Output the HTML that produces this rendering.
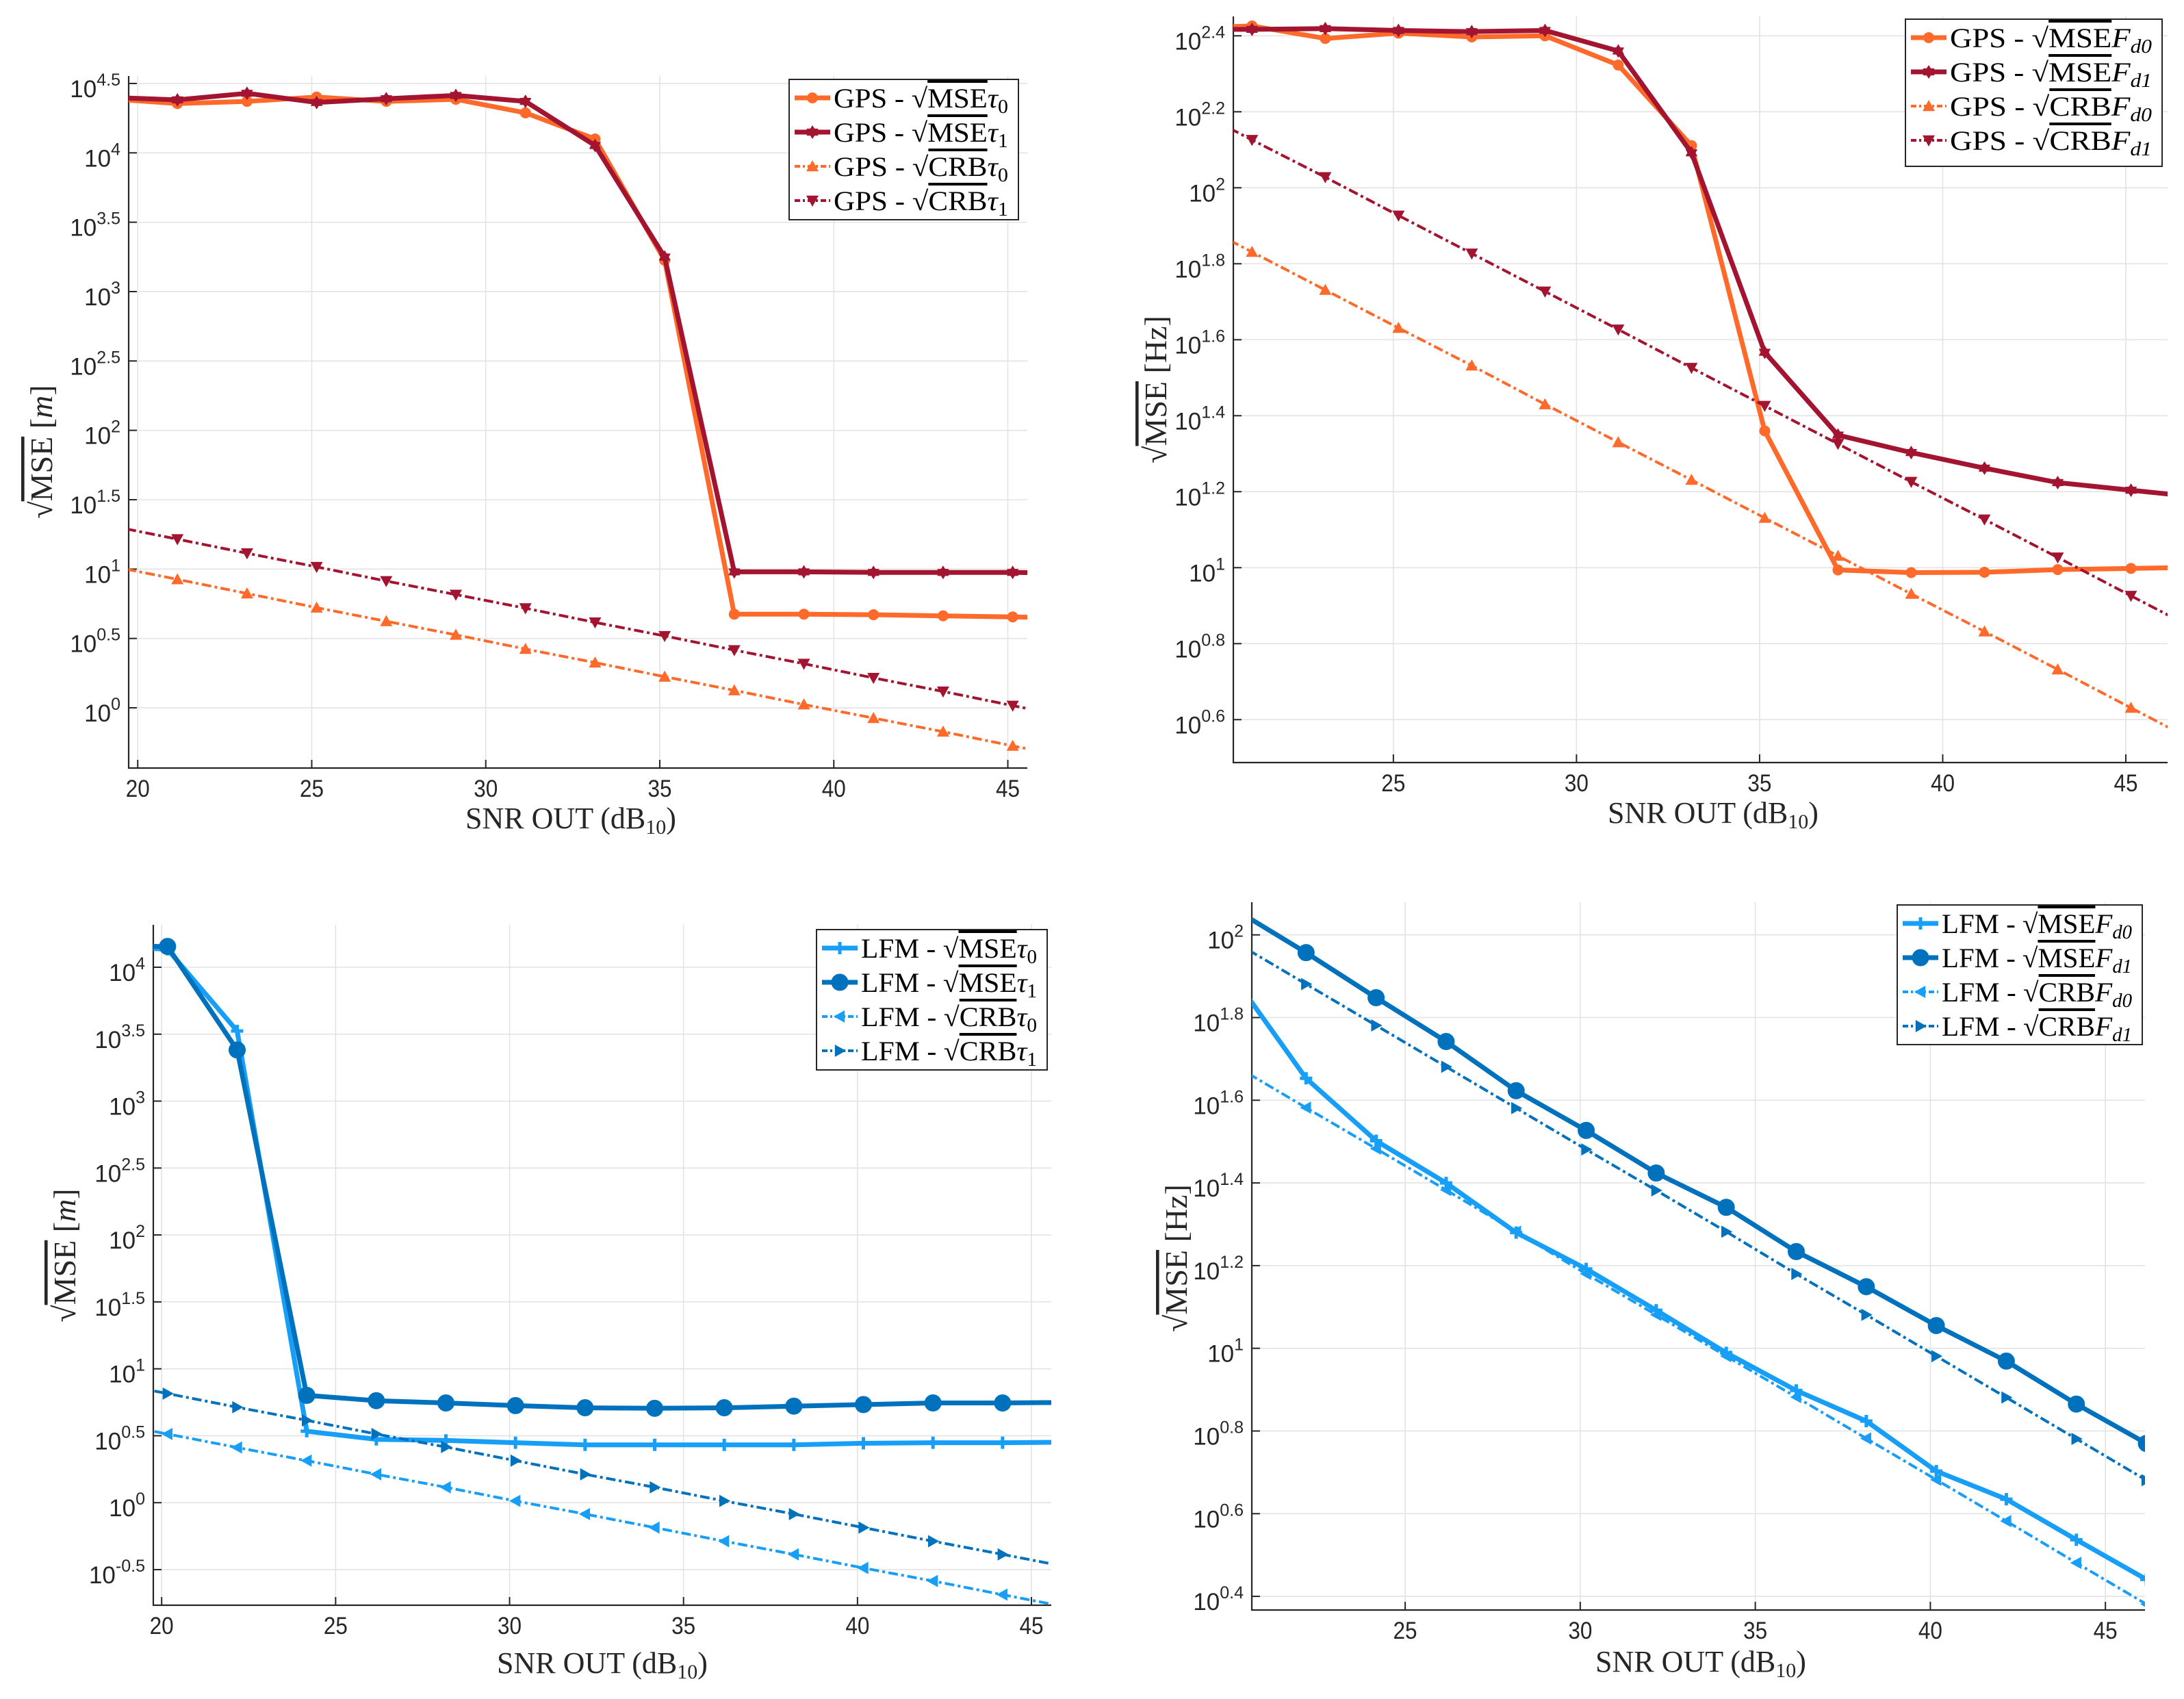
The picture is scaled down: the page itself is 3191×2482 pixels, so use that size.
<!DOCTYPE html>
<html><head><meta charset="utf-8"><style>
html,body{margin:0;padding:0;background:#fff;}
svg{display:block;}
</style></head><body>
<svg id="fig" width="3191" height="2482" viewBox="0 0 3191 2482" xmlns="http://www.w3.org/2000/svg"></svg>
<script>
// ---------- data (log10 of sqrt(MSE) / sqrt(CRB)) ----------
const snrGps = [19.14,21.14,23.14,25.14,27.14,29.14,31.14,33.14,35.14,37.14,39.14,41.14,43.14,45.14,47.14];
const snrLfm = [18.17,20.17,22.17,24.17,26.17,28.17,30.17,32.17,34.17,36.17,38.17,40.17,42.17,44.17,46.17];

const gpsTauMse0 = [4.39,4.355,4.371,4.402,4.371,4.386,4.288,4.100,3.225,0.675,0.675,0.671,0.663,0.655,0.647];
const gpsTauMse1 = [4.40,4.382,4.429,4.363,4.390,4.414,4.371,4.053,3.249,0.980,0.980,0.976,0.976,0.976,0.968];
const gpsTauCrb0 = [1.026,0.926,0.824,0.722,0.624,0.526,0.424,0.326,0.224,0.126,0.024,-0.074,-0.172,-0.274,-0.374];
const gpsTauCrb1 = [1.316,1.216,1.114,1.016,0.914,0.816,0.718,0.616,0.518,0.416,0.318,0.216,0.118,0.016,-0.084];

const gpsFdMse0 = [2.42,2.426,2.393,2.407,2.397,2.400,2.323,2.111,1.360,0.994,0.987,0.988,0.995,0.998,1.001];
const gpsFdMse1 = [2.417,2.417,2.419,2.414,2.411,2.414,2.360,2.092,1.567,1.349,1.303,1.262,1.224,1.204,1.184];
const gpsFdCrb0 = [1.931,1.831,1.731,1.631,1.532,1.430,1.330,1.231,1.131,1.031,0.931,0.832,0.732,0.631,0.531];
const gpsFdCrb1 = [2.226,2.126,2.028,1.927,1.827,1.727,1.627,1.526,1.426,1.326,1.226,1.127,1.027,0.926,0.826];

const lfmTauMse0 = [4.16,4.134,3.524,0.534,0.473,0.465,0.448,0.432,0.432,0.432,0.432,0.444,0.448,0.448,0.452];
const lfmTauMse1 = [4.16,4.155,3.382,0.802,0.762,0.745,0.725,0.709,0.705,0.709,0.721,0.733,0.745,0.745,0.749];
const lfmTauCrb0 = [0.613,0.513,0.412,0.314,0.212,0.115,0.013,-0.085,-0.186,-0.288,-0.386,-0.488,-0.585,-0.687,-0.787];
const lfmTauCrb1 = [0.915,0.815,0.713,0.615,0.513,0.416,0.314,0.212,0.115,0.013,-0.085,-0.186,-0.288,-0.386,-0.487];

const lfmFdMse0 = [2.0,1.89,1.653,1.502,1.400,1.280,1.192,1.092,0.989,0.898,0.824,0.703,0.635,0.537,0.441];
const lfmFdMse1 = [2.11,2.06,1.957,1.848,1.742,1.623,1.527,1.424,1.341,1.234,1.149,1.055,0.969,0.865,0.770];
const lfmFdCrb0 = [1.782,1.682,1.582,1.483,1.383,1.282,1.180,1.081,0.981,0.882,0.782,0.682,0.582,0.481,0.381];
const lfmFdCrb1 = [2.081,1.981,1.881,1.781,1.681,1.581,1.481,1.382,1.282,1.180,1.081,0.981,0.881,0.781,0.681];

const xTicksA = [20,25,30,35,40,45];
const xTicksB = [25,30,35,40,45];
const yTicksTau = [0,0.5,1,1.5,2,2.5,3,3.5,4,4.5];
const yTickTauLabels = ['0','0.5','1','1.5','2','2.5','3','3.5','4','4.5'];
const yTicksFdGps = [0.6,0.8,1.0,1.2,1.4,1.6,1.8,2.0,2.2,2.4];
const yTickFdGpsLabels = ['0.6','0.8','1','1.2','1.4','1.6','1.8','2','2.2','2.4'];
const yTicksTauLfm = [-0.5,0,0.5,1,1.5,2,2.5,3,3.5,4];
const yTickTauLfmLabels = ['-0.5','0','0.5','1','1.5','2','2.5','3','3.5','4'];
const yTicksFdLfm = [0.4,0.6,0.8,1.0,1.2,1.4,1.6,1.8,2.0];
const yTickFdLfmLabels = ['0.4','0.6','0.8','1','1.2','1.4','1.6','1.8','2'];

const ORANGE='#FF6A2B', RED='#A2142F', LBLUE='#179FF7', DBLUE='#0072BD';
const NS='http://www.w3.org/2000/svg';
const svg=document.getElementById('fig');
function el(tag,attrs,parent){const e=document.createElementNS(NS,tag);for(const k in attrs)e.setAttribute(k,attrs[k]);(parent||svg).appendChild(e);return e;}

const plots=[
 {name:'gps-delay',box:[188,111,1501,1122],xd:[19.74,45.56],yd:[-0.434,4.554],xt:xTicksA,yt:yTicksTau,ytl:yTickTauLabels,
  x:snrGps,ylab:['m',true],xlab:[834,1210],ylabPos:[62,660],
  series:[[gpsTauMse0,ORANGE,'circle',true],[gpsTauMse1,RED,'star',true],[gpsTauCrb0,ORANGE,'tri-up',false],[gpsTauCrb1,RED,'tri-down',false]],
  prefix:'GPS',sym:'τ',subs:['0','1','0','1'],leg:[1153,116,335,205]},
 {name:'gps-doppler',box:[1802,24,3167,1114],xd:[20.63,46.14],yd:[0.487,2.451],xt:xTicksB,yt:yTicksFdGps,ytl:yTickFdGpsLabels,
  x:snrGps,ylab:['Hz',false],xlab:[2503,1202],ylabPos:[1690,569],
  series:[[gpsFdMse0,ORANGE,'circle',true],[gpsFdMse1,RED,'star',true],[gpsFdCrb0,ORANGE,'tri-up',false],[gpsFdCrb1,RED,'tri-down',false]],
  prefix:'GPS',sym:'F',subs:['d0','d1','d0','d1'],leg:[2784,28,375,215]},
 {name:'lfm-delay',box:[224,1351,1536,2345],xd:[19.76,45.57],yd:[-0.766,4.317],xt:xTicksA,yt:yTicksTauLfm,ytl:yTickTauLfmLabels,
  x:snrLfm,ylab:['m',true],xlab:[880,2444],ylabPos:[96,1834],
  series:[[lfmTauMse0,LBLUE,'plus',true],[lfmTauMse1,DBLUE,'bigcircle',true],[lfmTauCrb0,LBLUE,'tri-left',false],[lfmTauCrb1,DBLUE,'tri-right',false]],
  prefix:'LFM',sym:'τ',subs:['0','1','0','1'],leg:[1193,1358,337,205]},
 {name:'lfm-doppler',box:[1829,1318,3134,2352],xd:[20.62,46.13],yd:[0.367,2.079],xt:xTicksB,yt:yTicksFdLfm,ytl:yTickFdLfmLabels,
  x:snrLfm,ylab:['Hz',false],xlab:[2485,2442],ylabPos:[1720,1838],
  series:[[lfmFdMse0,LBLUE,'plus',true],[lfmFdMse1,DBLUE,'bigcircle',true],[lfmFdCrb0,LBLUE,'tri-left',false],[lfmFdCrb1,DBLUE,'tri-right',false]],
  prefix:'LFM',sym:'F',subs:['d0','d1','d0','d1'],leg:[2772,1322,358,204]}
];

function marker(g,type,cx,cy,color,scale){
  const s=scale||1;let m;
  if(type==='circle'){m=el('circle',{cx:cx,cy:cy,r:8*s,fill:color},g);}
  else if(type==='bigcircle'){m=el('circle',{cx:cx,cy:cy,r:11*s,fill:color,stroke:color,'stroke-width':3},g);}
  else if(type==='star'){const p=[];for(let i=0;i<12;i++){const a=Math.PI/6*i,r=(i%2?6:10)*s;p.push((cx+r*Math.sin(a)).toFixed(1)+','+(cy-r*Math.cos(a)).toFixed(1));}m=el('polygon',{points:p.join(' '),fill:color},g);}
  else if(type==='tri-up'){const r=9*s;m=el('polygon',{points:`${cx},${cy-r} ${cx+r},${cy+r*0.8} ${cx-r},${cy+r*0.8}`,fill:color},g);}
  else if(type==='tri-down'){const r=9*s;m=el('polygon',{points:`${cx},${cy+r} ${cx+r},${cy-r*0.8} ${cx-r},${cy-r*0.8}`,fill:color},g);}
  else if(type==='tri-left'){const r=9*s;m=el('polygon',{points:`${cx-r},${cy} ${cx+r*0.8},${cy-r} ${cx+r*0.8},${cy+r}`,fill:color},g);}
  else if(type==='tri-right'){const r=9*s;m=el('polygon',{points:`${cx+r},${cy} ${cx-r*0.8},${cy-r} ${cx-r*0.8},${cy+r}`,fill:color},g);}
  else if(type==='plus'){m=el('path',{d:`M${cx-9*s},${cy}H${cx+9*s}M${cx},${cy-9*s}V${cy+9*s}`,stroke:color,'stroke-width':5,fill:'none'},g);}
  return m;
}

plots.forEach((P,pi)=>{
  const [L,T,R,B]=P.box;
  const xs=v=>L+(v-P.xd[0])/(P.xd[1]-P.xd[0])*(R-L);
  const ys=v=>B-(v-P.yd[0])/(P.yd[1]-P.yd[0])*(B-T);
  const g=el('g',{});
  
  
  const clip=el('clipPath',{id:'clip'+pi},g);
  el('rect',{x:L,y:T,width:R-L,height:B-T},clip);
  const grid=el('g',{stroke:'#e3e3e3','stroke-width':1.6},g);
  
  
  P.xt.forEach(t=>el('line',{x1:xs(t),x2:xs(t),y1:T,y2:B},grid));
  P.yt.forEach(t=>el('line',{x1:L,x2:R,y1:ys(t),y2:ys(t)},grid));
  const xtg=el('g',{'font-family':'Liberation Sans, sans-serif','font-size':35,fill:'#262626','text-anchor':'middle'},g);
  
  
  P.xt.forEach(t=>{const tx=el('text',{x:xs(t),y:B+42,transform:`translate(${xs(t)},0) scale(0.9,1) translate(${-xs(t)},0)`},xtg);tx.textContent=String(t);
    el('line',{x1:xs(t),x2:xs(t),y1:B,y2:B-12,stroke:'#262626','stroke-width':2},g);});
  const ytg=el('g',{'font-family':'Liberation Sans, sans-serif','font-size':35,fill:'#262626','text-anchor':'end'},g);
  
  
  P.yt.forEach((t,i)=>{const tx=el('text',{x:L-12,y:ys(t)+20},ytg);
    const a=document.createElementNS(NS,'tspan');a.textContent='10';tx.appendChild(a);
    const b=document.createElementNS(NS,'tspan');b.setAttribute('dy','-17');b.setAttribute('font-size','25');b.textContent=P.ytl[i];tx.appendChild(b);
    el('line',{x1:L,x2:L+12,y1:ys(t),y2:ys(t),stroke:'#262626','stroke-width':2},g);});
  const ax=el('path',{d:`M${L},${T}V${B}H${R}`,stroke:'#262626','stroke-width':2.2,fill:'none'},g);
  
  
  const sg=el('g',{'clip-path':`url(#clip${pi})`},g);
  P.series.forEach((S,si)=>{
    const [vals,color,mk,solid]=S;
    const pts=vals.map((v,i)=>xs(P.x[i]).toFixed(1)+','+ys(v).toFixed(1)).join(' ');
    const ln=el('polyline',{points:pts,fill:'none',stroke:color,'stroke-width':solid?7:4,'stroke-linejoin':'round',
      'stroke-dasharray':solid?'none':'14,5,4,5'},sg);
    
    
    vals.forEach((v,i)=>{const m=marker(sg,mk,xs(P.x[i]),ys(v),color,1);
      
      });
  });
  const xl=el('text',{x:P.xlab[0],y:P.xlab[1],'text-anchor':'middle','font-family':'Liberation Serif, serif','font-size':44,fill:'#262626'},g);
  
  
  xl.innerHTML='SNR OUT (dB<tspan font-size="30" dy="8">10</tspan><tspan dy="-8">)</tspan>';
  const yl=el('text',{x:0,y:0,transform:`translate(${P.ylabPos[0]+14},${P.ylabPos[1]}) rotate(-90)`,'text-anchor':'middle','font-family':'Liberation Serif, serif','font-size':46,fill:'#262626'},g);
  
  
  yl.innerHTML='√<tspan style="text-decoration:overline">MSE</tspan> ['+(P.ylab[1]?'<tspan font-style="italic">'+P.ylab[0]+'</tspan>':P.ylab[0])+']';
  const [lx,ly,lw,lh]=P.leg;
  const lg=el('g',{},g);
  
  
  el('rect',{x:lx,y:ly,width:lw,height:lh,fill:'#fff',stroke:'#262626','stroke-width':2},lg);
  const kinds=['MSE','MSE','CRB','CRB'];
  P.series.forEach((S,si)=>{
    const cy=ly+27+si*50;
    const e=el('g',{},lg);
    
    
    el('line',{x1:lx+8,x2:lx+60,y1:cy,y2:cy,stroke:S[1],'stroke-width':S[3]?7:4,'stroke-dasharray':S[3]?'none':'8,4,3,4'},e);
    marker(e,S[2],lx+34,cy,S[1],1);
    const t=el('text',{x:lx+65,y:cy+14,'font-family':'Liberation Serif, serif','font-size':40,fill:'#000',textLength:lw-80,lengthAdjust:'spacingAndGlyphs'},e);
    t.innerHTML=P.prefix+' - √<tspan style="text-decoration:overline">'+kinds[si]+'</tspan><tspan font-style="italic">'+P.sym+'</tspan><tspan font-size="28" dy="8"'+(P.sym==='F'?' font-style="italic"':'')+'>'+P.subs[si]+'</tspan>';
  });
});
</script>
</body></html>
